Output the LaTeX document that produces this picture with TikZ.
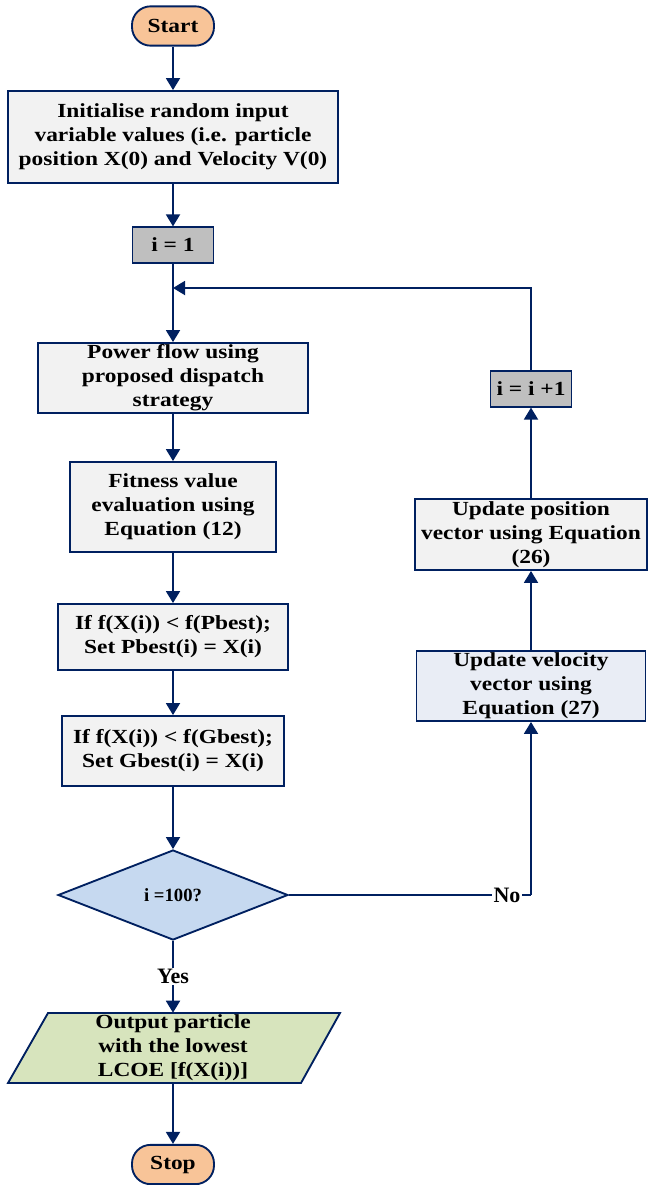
\documentclass[tikz,border=0pt]{standalone}
\usepackage{fontspec}
\setmainfont[FakeStretch=1.17]{Liberation Serif}
\newfontfamily\tagfont{Liberation Serif}
\usetikzlibrary{arrows.meta,shapes.geometric}
\definecolor{navy}{RGB}{0,32,96}
\definecolor{startfill}{RGB}{248,196,152}
\definecolor{boxfill}{RGB}{242,242,242}
\definecolor{counterfill}{RGB}{191,191,191}
\definecolor{velfill}{RGB}{233,237,245}
\definecolor{decfill}{RGB}{198,217,240}
\definecolor{outfill}{RGB}{215,228,189}
\begin{document}
\begin{tikzpicture}[x=0.75pt,y=-0.75pt,
  every node/.style={font=\fontsize{15}{18}\selectfont\bfseries, align=center, inner sep=0pt},
  base/.style={draw=navy, line width=1.4pt},
  terminal/.style={base, fill=startfill, rounded corners=14pt, minimum width=61.5pt, minimum height=29.5pt},
  process/.style={base, fill=boxfill},
  counter/.style={base, fill=counterfill, minimum width=60.75pt, minimum height=26.5pt},
  decision/.style={base, fill=decfill, diamond, minimum width=172.5pt, minimum height=67.5pt,
    font=\tagfont\fontsize{14}{16}\selectfont\bfseries},
  flow/.style={draw=navy, line width=1.4pt, -{Triangle[length=9pt,width=10.5pt]}},
  link/.style={draw=navy, line width=1.4pt},
  tag/.style={fill=white, font=\tagfont\fontsize{16.5}{18}\selectfont\bfseries, inner sep=1pt}
]
\useasboundingbox (0,0) rectangle (648,1185);

% left column
\node[terminal] (start) at (173,26) {Start};
\node[process, minimum width=247.5pt, minimum height=69pt] (init) at (173,137)
  {Initialise random input\\variable values (i.e. particle\\position X(0) and Velocity V(0)};
\node[counter] (i1) at (173,245) {i = 1};
\node[process, minimum width=203pt, minimum height=52.5pt] (power) at (173,378)
  {Power flow using\\proposed dispatch\\strategy};
\node[process, minimum width=155pt, minimum height=67.5pt] (fit) at (173,507)
  {Fitness value\\evaluation using\\Equation (12)};
\node[process, minimum width=173pt, minimum height=49.5pt] (pb) at (173,637)
  {If f(X(i)) < f(Pbest);\\Set Pbest(i) = X(i)};
\node[process, minimum width=166.5pt, minimum height=52.5pt] (gb) at (173,751)
  {If f(X(i)) < f(Gbest);\\Set Gbest(i) = X(i)};
\node[decision] (dec) at (173,895) {i =100?};

% output parallelogram
\path[base, fill=outfill] (48,1013) -- (340,1013) -- (301,1083) -- (8,1083) -- cycle;
\node[minimum height=52.5pt] (out) at (173,1048)
  {Output particle\\with the lowest\\LCOE [f(X(i))]};
\node[terminal] (stop) at (173,1164.5) {Stop};

% right column
\node[process, fill=velfill, minimum width=171.75pt, minimum height=52.5pt] (vel) at (531,686)
  {Update velocity\\vector using\\Equation (27)};
\node[process, minimum width=174pt, minimum height=53.25pt] (pos) at (531,534.5)
  {Update position\\vector using Equation\\(26)};
\node[counter] (inc) at (531,389) {i = i +1};

\coordinate (loopin) at (173,288);
\coordinate (turn) at (531,288);
\coordinate (nocorner) at (531,895);

% connectors
\draw[flow] (start) -- (init);
\draw[flow] (init) -- (i1);
\draw[flow] (i1) -- (power);
\draw[flow] (power) -- (fit);
\draw[flow] (fit) -- (pb);
\draw[flow] (pb) -- (gb);
\draw[flow] (gb) -- (dec);
\draw[flow] (dec.south) -- (out.north) node[tag, pos=0.5] {Yes};
\draw[flow] (out.south) -- (stop);
\draw[link] (dec.east) -- (nocorner);
\draw[flow] (nocorner) -- (vel.south);
\node[tag] (no) at (507,895) {No};
\draw[flow] (vel) -- (pos);
\draw[flow] (pos) -- (inc);
\draw[flow] (inc.north) -- (turn) -- (loopin);
\end{tikzpicture}
\end{document}
